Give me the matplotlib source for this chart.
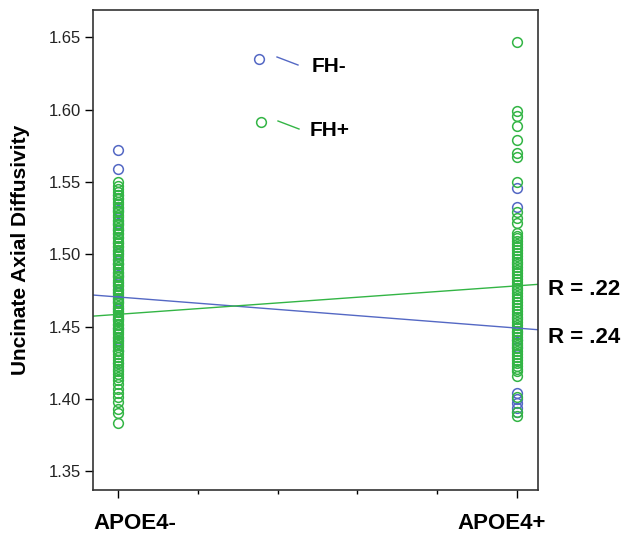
import matplotlib
matplotlib.use("Agg")
import matplotlib.pyplot as plt
import numpy as np
from matplotlib.lines import Line2D

plt.rcParams['font.family'] = ['Liberation Sans', 'DejaVu Sans']

categories = ["APOE4-", "APOE4+"]
series_names = ["FH-", "FH+"]

# APOE4- group
fhminus_apoe4neg = [1.572, 1.559, 1.541, 1.531, 1.522, 1.517, 1.508, 1.501, 1.493,
                    1.486, 1.480, 1.474, 1.468, 1.462, 1.455, 1.449, 1.441, 1.433, 1.425]
fhplus_apoe4neg = [1.550, 1.547, 1.545, 1.543, 1.541, 1.539, 1.538, 1.536, 1.535, 1.533,
                   1.532, 1.530, 1.529, 1.527, 1.526, 1.524, 1.523, 1.521, 1.520, 1.518,
                   1.517, 1.515, 1.514, 1.512, 1.511, 1.509, 1.508, 1.506, 1.505, 1.503,
                   1.502, 1.500, 1.499, 1.497, 1.496, 1.494, 1.493, 1.491, 1.490, 1.488,
                   1.487, 1.485, 1.484, 1.482, 1.481, 1.479, 1.478, 1.476, 1.475, 1.473,
                   1.472, 1.470, 1.469, 1.467, 1.466, 1.464, 1.463, 1.461, 1.460, 1.458,
                   1.457, 1.455, 1.454, 1.452, 1.451, 1.449, 1.448, 1.446, 1.445, 1.443,
                   1.442, 1.440, 1.439, 1.437, 1.436, 1.434, 1.433, 1.431, 1.429, 1.427,
                   1.425, 1.423, 1.421, 1.419, 1.417, 1.415, 1.413, 1.410, 1.407, 1.404,
                   1.401, 1.398, 1.393, 1.390, 1.383]

# APOE4+ group
fhminus_apoe4pos = [1.546, 1.533, 1.446, 1.441, 1.436, 1.404, 1.400, 1.397, 1.394, 1.391]
fhplus_apoe4pos = [1.647, 1.599, 1.596, 1.589, 1.579, 1.570, 1.567, 1.550, 1.529, 1.525,
                   1.522, 1.515, 1.513, 1.511, 1.509, 1.507, 1.505, 1.503, 1.501, 1.499,
                   1.497, 1.495, 1.493, 1.491, 1.489, 1.487, 1.485, 1.483, 1.481, 1.479,
                   1.477, 1.475, 1.473, 1.471, 1.469, 1.467, 1.465, 1.463, 1.461, 1.459,
                   1.457, 1.455, 1.453, 1.451, 1.449, 1.447, 1.445, 1.443, 1.441, 1.439,
                   1.437, 1.435, 1.433, 1.431, 1.429, 1.427, 1.425, 1.423, 1.421, 1.419,
                   1.416, 1.401, 1.391, 1.388]

# fitted line values at APOE4- (x=0) and APOE4+ (x=1)
fit_fhminus = [1.4705, 1.4490]
fit_fhplus = [1.4585, 1.4782]
r_labels = ["R = .24", "R = .22"]

yticks = [1.35, 1.40, 1.45, 1.50, 1.55, 1.60, 1.65]

blue = '#5468c4'
green = '#33b545'

W, H = 622, 534
fig = plt.figure(figsize=(W / 100, H / 100), dpi=100)
ax = fig.add_axes([93 / W, 1 - 490 / H, (538 - 93) / W, (490 - 10) / H])

ms = 7
ax.plot([0] * len(fhminus_apoe4neg), fhminus_apoe4neg, 'o', mfc='none', mec=blue, ms=ms, mew=1.1)
ax.plot([1] * len(fhminus_apoe4pos), fhminus_apoe4pos, 'o', mfc='none', mec=blue, ms=ms, mew=1.1)
ax.plot([0] * len(fhplus_apoe4neg), fhplus_apoe4neg, 'o', mfc='none', mec=green, ms=ms, mew=1.1)
ax.plot([1] * len(fhplus_apoe4pos), fhplus_apoe4pos, 'o', mfc='none', mec=green, ms=ms, mew=1.1)

xmin, xmax = -0.063, 1.053
xs = np.array([xmin, xmax])
for fit, c in [(fit_fhminus, blue), (fit_fhplus, green)]:
    slope = fit[1] - fit[0]
    ax.plot(xs, fit[0] + slope * xs, color=c, lw=1)

ax.set_xlim(xmin, xmax)
ax.set_ylim(1.337, 1.669)
ax.set_yticks(yticks)
ax.set_yticklabels([f"{v:.2f}" for v in yticks], fontsize=12, color='#222222')
ax.set_xticks([0, 1])
ax.set_xticklabels([])
ax.set_xticks([0.2, 0.4, 0.6, 0.8], minor=True)
ax.tick_params(axis='x', which='major', length=6, width=1)
ax.tick_params(axis='x', which='minor', length=3, width=1)
ax.tick_params(axis='y', length=6, width=1, pad=3)
for s in ax.spines.values():
    s.set_color('#333333')
    s.set_linewidth(1.2)
ax.set_ylabel("Uncinate Axial Diffusivity", fontsize=15, fontweight='bold', labelpad=13)

# category labels (offset slightly inward, as in the reference)
for xv, lab, dx in [(0, categories[0], 12), (1, categories[1], -11)]:
    ax.annotate(lab, xy=(xv, 0), xycoords=('data', 'axes fraction'),
                xytext=(dx, -24), textcoords='offset points',
                fontsize=16, fontweight='bold', ha='center', va='center',
                annotation_clip=False)

# R labels at right end of fit lines
ax.text(1.077, fit_fhplus[0] + (fit_fhplus[1] - fit_fhplus[0]) * 1.08 - 0.004, r_labels[1],
        fontsize=16, fontweight='bold', va='center', ha='left', clip_on=False)
ax.text(1.077, fit_fhminus[0] + (fit_fhminus[1] - fit_fhminus[0]) * 1.08 - 0.005, r_labels[0],
        fontsize=16, fontweight='bold', va='center', ha='left', clip_on=False)

# legend drawn inside plot
tf = fig.transFigure
def P(x, y):
    return x / W, 1 - y / H
for (cx, cy, lx0, ly0, lx1, ly1, tx, ty, c, name) in [
        (259, 59, 277, 57, 298, 65, 312, 67, blue, series_names[0]),
        (261, 122, 278, 121, 299, 129, 310, 130, green, series_names[1])]:
    fig.add_artist(Line2D([P(cx, cy)[0]], [P(cx, cy)[1]], marker='o', mfc='none', mec=c,
                          ms=ms, mew=1.1, transform=tf))
    fig.add_artist(Line2D([P(lx0, ly0)[0], P(lx1, ly1)[0]], [P(lx0, ly0)[1], P(lx1, ly1)[1]],
                          color=c, lw=1, transform=tf))
    fig.text(*P(tx, ty), name, fontsize=15, fontweight='bold', va='center', ha='left')

fig.savefig("out.png", dpi=100)
